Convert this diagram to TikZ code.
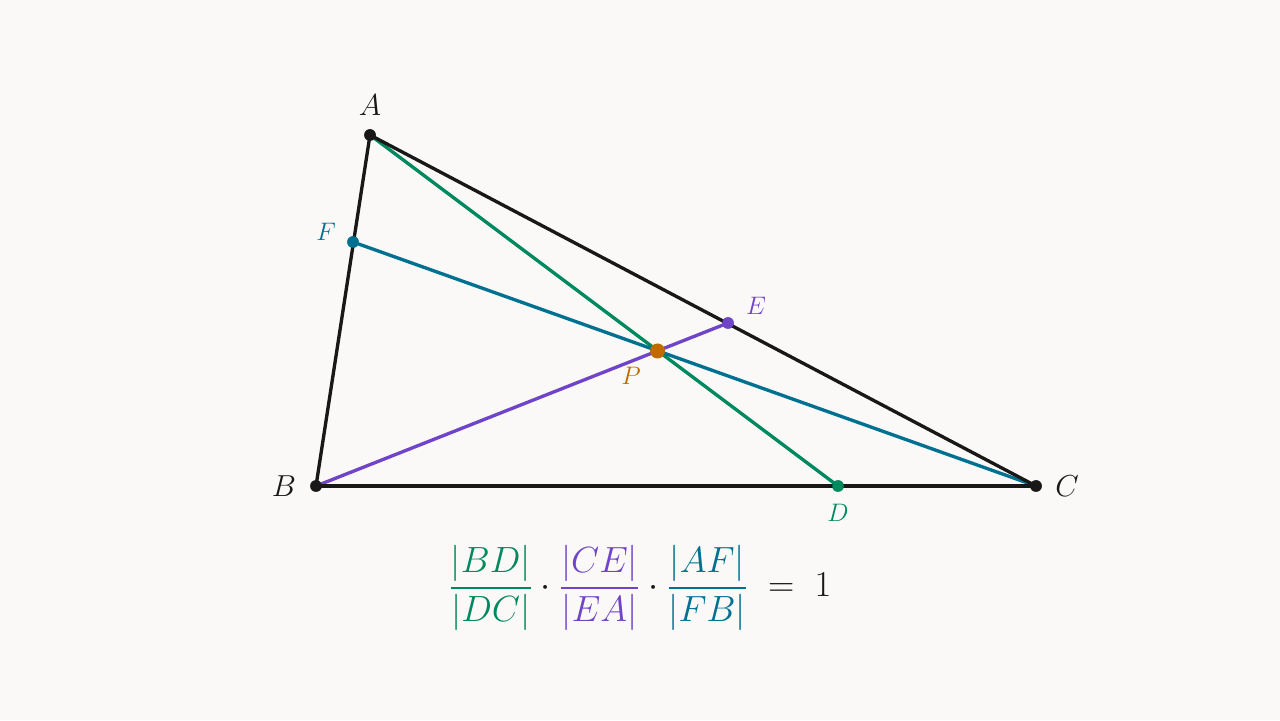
\documentclass[tikz,border=0pt]{standalone}
\usepackage{amsmath}
\definecolor{bg}{RGB}{250,249,248}
\definecolor{cevaD}{RGB}{0,136,94}
\definecolor{cevaE}{RGB}{112,68,200}
\definecolor{cevaF}{RGB}{0,112,145}
\definecolor{cevaP}{RGB}{192,106,0}
\definecolor{ink}{RGB}{24,24,24}
\tikzset{
    dot/.style={circle, fill=#1, inner sep=0pt, minimum size=0.23cm},
    bigdot/.style={circle, fill=#1, inner sep=0pt, minimum size=0.3cm},
    lbl/.style={text=#1, font=\fontsize{14.5}{17}\selectfont},
    biglbl/.style={text=ink, font=\fontsize{16.5}{19}\selectfont}
}
\begin{document}
\begin{tikzpicture}
                    \fill[bg] (0,0) rectangle (25.6,14.4);
                    \useasboundingbox (0,0) rectangle (25.6,14.4);
                    \node at (7.40, 11.70) (A) [dot=ink] {};
                    \node at (6.32, 4.68) (B) [dot=ink] {};
                    \node at (20.72, 4.68) (C) [dot=ink] {};
                    \node at (16.76, 4.68) (D) [dot=cevaD] {};
                    \node at (14.56, 7.94) (E) [dot=cevaE] {};
                    \node at (7.06, 9.56) (F) [dot=cevaF] {};
                    \node at (13.15, 7.38) (P) {};

                    \path[line width=1.9pt]
                        (A.center) edge [cevaD] (D.center)
                        (B.center) edge [cevaE] (E.center)
                        (C.center) edge [cevaF] (F.center)
                        (A.center) edge [ink] (B.center)
                        (B.center) edge [ink] (C.center)
                        (C.center) edge [ink] (A.center);

                    % redraw the points over the lines
                    \node at (A) [dot=ink] {};
                    \node at (B) [dot=ink] {};
                    \node at (C) [dot=ink] {};
                    \node at (D) [dot=cevaD] {};
                    \node at (E) [dot=cevaE] {};
                    \node at (F) [dot=cevaF] {};
                    \node at (P) [bigdot=cevaP] {};

                    \node at (7.40, 12.30) (A_l) [biglbl] {$A$};
                    \node at (5.68, 4.68) (B_l) [biglbl] {$B$};
                    \node at (21.34, 4.68) (C_l) [biglbl] {$C$};
                    \node at (16.76, 4.14) (D_l) [lbl=cevaD] {$D$};
                    \node at (15.12, 8.28) (E_l) [lbl=cevaE] {$E$};
                    \node at (6.52, 9.76) (F_l) [lbl=cevaF] {$F$};
                    \node at (12.62, 6.88) (P_l) [lbl=cevaP] {$P$};

                    \node at (12.8, 2.64) (ratio) [text=ink, font=\fontsize{21}{25}\selectfont]
                        {$\displaystyle \color{cevaD}\frac{|BD|}{|DC|}\color{ink}\cdot
                          \color{cevaE}\frac{|CE|}{|EA|}\color{ink}\cdot
                          \color{cevaF}\frac{|AF|}{|FB|}\color{ink}\;=\;1$};
                \end{tikzpicture}
\end{document}
